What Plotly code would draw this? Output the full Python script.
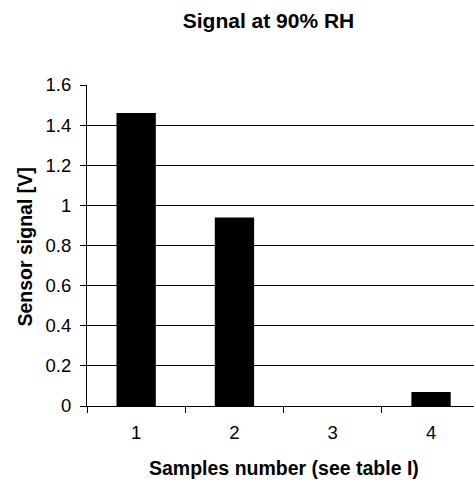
import plotly.graph_objects as go

samples = [1, 2, 3, 4]
sample_labels = ["1", "2", "3", "4"]
signal = [1.46, 0.94, 0.0, 0.07]
y_ticks = [0, 0.2, 0.4, 0.6, 0.8, 1.0, 1.2, 1.4, 1.6]

FONT = "Liberation Sans, Arial, sans-serif"
W, H = 474, 480
ML, MR, MT, MB = 87, 0, 85, 74
cat_px = 98.3
PW, PH = W - ML - MR, H - MT - MB

fig = go.Figure()
fig.add_trace(go.Bar(x=samples, y=signal, width=0.4,
                     marker=dict(color="black", line=dict(width=0))))

fig.update_layout(
    width=W, height=H,
    margin=dict(l=ML, r=MR, t=MT, b=MB, autoexpand=False),
    paper_bgcolor="white", plot_bgcolor="white",
    showlegend=False,
    font=dict(family=FONT, size=18.5, color="black"),
    title=dict(text="<b>Signal at 90% RH</b>", x=268.5 / W, xanchor="center",
               y=1 - 21 / H, yanchor="middle", yref="container",
               font=dict(family=FONT, size=21, color="black")),
)
fig.update_xaxes(
    range=[0.5, 0.5 + PW / cat_px],
    tickvals=samples, ticktext=sample_labels,
    ticks="", ticklabelstandoff=10,
    showgrid=False, zeroline=False,
    showline=True, linecolor="black", linewidth=1,
    minor=dict(ticks="outside", tick0=0.5, dtick=1, ticklen=6,
               tickcolor="black", tickwidth=1, showgrid=False),
    tickfont=dict(family=FONT, size=18.5, color="black"),
)
fig.update_yaxes(
    range=[0, 1.6], tickvals=y_ticks,
    ticks="outside", ticklen=6, tickcolor="black", tickwidth=1,
    ticklabelstandoff=5,
    showgrid=True, gridcolor="black", gridwidth=1,
    zeroline=False, showline=True, linecolor="black", linewidth=1,
    tickfont=dict(family=FONT, size=18.5, color="black"),
)
fig.add_annotation(text="<b>Sensor signal [V]</b>", xref="paper", yref="paper",
                   x=-(ML - 24.5) / PW, y=1 - (247 - MT) / PH, textangle=-90,
                   showarrow=False, xanchor="center", yanchor="middle",
                   font=dict(family=FONT, size=19.5, color="black"))
fig.add_annotation(text="<b>Samples number (see table I)</b>", xref="paper", yref="paper",
                   x=0.5 * (4.0 / (PW / cat_px)), y=-(468 - (H - MB)) / PH,
                   showarrow=False, xanchor="center", yanchor="middle",
                   font=dict(family=FONT, size=19.5, color="black"))

fig.write_html("out.html",
               config={"displayModeBar": False},
               post_script="document.body.style.margin='0';"
                           "document.body.style.overflow='hidden';")
